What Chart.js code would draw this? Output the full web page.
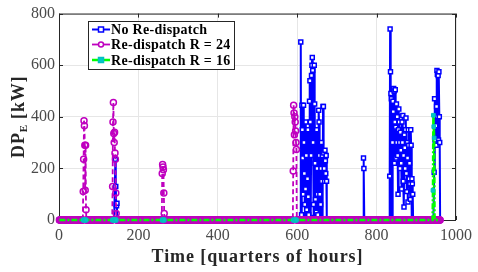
<!DOCTYPE html>
<html>
<head>
<meta charset="utf-8">
<script src="https://cdn.jsdelivr.net/npm/chart.js@4/dist/chart.umd.min.js"></script>
<style>
body { margin: 0; background: #fff; }
</style>
</head>
<body>
<canvas id="dp_chart" width="478" height="272"></canvas>
<script>
// Данные (квартал часа -> кВт), всё остальное = 0
var nQuarters = 960;

var noRedispatchQ = [141, 142, 143, 144, 145, 146, 147,
    608, 609, 610, 611, 612, 613, 614, 615, 616, 617, 618, 619, 620, 621, 622, 623, 624, 625, 626, 627, 628, 629, 630,
    631, 632, 633, 634, 635, 636, 637, 638, 639, 640, 641, 642, 643, 644, 645, 646, 647, 648, 649, 650, 651, 652, 653,
    654, 655, 656, 657, 658, 659, 660, 661, 662, 663, 664, 665, 666, 667, 668, 669, 670, 671, 672, 673, 674, 675,
    766, 767, 768, 769,
    832, 833, 834, 835, 836, 837, 838, 839, 840, 841, 842, 843, 844, 845, 846, 847, 848, 849, 850, 851, 852, 853, 854,
    855, 856, 857, 858, 859, 860, 861, 862, 863, 864, 865, 866, 867, 868, 869, 870, 871, 872, 873, 874, 875, 876, 877,
    878, 879, 880, 881, 882, 883, 884, 885, 886, 887, 888, 889, 890, 891, 892,
    944, 945, 946, 947, 948, 949, 950, 951, 952, 953, 954, 955, 956, 957, 958, 959, 960];
var noRedispatchKW = [0, 235, 130, 60, 55, 65, 0,
    0, 690, 0, 20, 445, 350, 240, 100, 445, 300, 180, 60, 0, 120, 380, 250, 40, 0, 160, 350, 90, 20, 0,
    460, 540, 380, 0, 250, 560, 600, 630, 580, 300, 60, 10, 600, 450, 220, 80, 0, 30, 350, 200, 100, 20, 0,
    425, 380, 250, 100, 0, 60, 200, 300, 150, 250, 0, 440, 440, 260, 200, 150, 270, 230, 180, 250, 150, 0,
    0, 240, 200, 0,
    0, 170, 740, 575, 490, 470, 0, 0, 300, 460, 420, 510, 500, 220, 380, 505, 360, 240, 450, 300, 400, 250, 100,
    350, 430, 380, 300, 200, 340, 270, 220, 120, 380, 300, 405, 150, 250, 50, 330, 280, 200, 350, 395, 180, 110, 300,
    240, 70, 350, 290, 160, 220, 140, 80, 350, 290, 0, 160, 140, 100, 0,
    0, 185, 470, 310, 400, 365, 290, 440, 580, 565, 400, 560, 310, 575, 400, 300, 0];

var r24Q = [60, 61, 62, 63, 64, 65, 66, 67, 68, 69,
    134, 135, 136, 137, 138, 139, 140, 141, 142, 143, 144, 145,
    259, 260, 261, 262, 263, 264, 265, 266,
    589, 590, 591, 592, 593, 594, 595, 596, 597, 598, 599];
var r24KW = [0, 110, 235, 385, 365, 290, 115, 290, 40, 0,
    0, 130, 380, 455, 335, 300, 340, 260, 235, 105, 25, 0,
    0, 180, 215, 205, 195, 105, 25, 0,
    0, 190, 445, 415, 330, 400, 380, 345, 300, 273, 0];

var r16Q = [941, 942, 943, 944, 945, 946];
var r16KW = [0, 115, 406, 362, 318, 0];

var xTicks = [0, 200, 400, 600, 800, 1000];
var yTicks = [0, 200, 400, 600, 800];

var seriesNames = ['No Re-dispatch', 'Re-dispatch R = 24', 'Re-dispatch R = 16'];

function build_series(qs, vals) {
    var m = {};
    for (var i = 0; i < qs.length; i++) m[qs[i]] = vals[i];
    var out = [];
    for (var q = 1; q <= nQuarters; q++) {
        out.push({x: q, y: m[q] !== undefined ? m[q] : 0});
    }
    return out;
}

var blueData = build_series(noRedispatchQ, noRedispatchKW);
var magentaData = build_series(r24Q, r24KW);
var greenData = build_series(r16Q, r16KW);

var serif = '"Liberation Serif", "DejaVu Serif", serif';
var axisColor = '#262626';

/* --------------------- рамка, тики внутрь, подписи осей, легенда --------------------- */

var boxPlugin = {
    id: 'box',
    beforeDatasetsDraw: function (chart) {
        var c = chart.ctx, a = chart.chartArea;
        var xs = chart.scales.x, ys = chart.scales.y;
        c.save();
        c.strokeStyle = axisColor;
        c.lineWidth = 1;
        c.strokeRect(a.left + 0.5, a.top + 0.5, a.right - a.left - 1, a.bottom - a.top);
        c.beginPath();
        xTicks.forEach(function (t) {
            var px = Math.round(xs.getPixelForValue(t)) + 0.5;
            c.moveTo(px, a.bottom); c.lineTo(px, a.bottom - 4);
            c.moveTo(px, a.top); c.lineTo(px, a.top + 4);
        });
        yTicks.forEach(function (t) {
            var py = Math.round(ys.getPixelForValue(t)) + 0.5;
            c.moveTo(a.left, py); c.lineTo(a.left + 4, py);
            c.moveTo(a.right, py); c.lineTo(a.right - 4, py);
        });
        c.stroke();
        c.restore();
    },
    afterDraw: function (chart) {
        var c = chart.ctx, a = chart.chartArea;
        c.save();
        c.fillStyle = axisColor;

        // подпись оси X
        c.font = 'bold 18px ' + serif;
        c.letterSpacing = '0.9px';
        c.textAlign = 'center';
        c.textBaseline = 'middle';
        c.fillText('Time [quarters of hours]', (a.left + a.right) / 2, 257);

        // подпись оси Y с индексом
        c.translate(18, (a.top + a.bottom) / 2);
        c.rotate(-Math.PI / 2);
        var big = 'bold 18px ' + serif, small = 'bold 11px ' + serif;
        c.letterSpacing = '0.8px';
        c.font = big;
        var w1 = c.measureText('DP').width;
        var w3 = c.measureText(' [kW]').width;
        c.font = small;
        var w2 = c.measureText('E').width;
        var x0 = -(w1 + w2 + w3) / 2;
        c.textAlign = 'left';
        c.textBaseline = 'alphabetic';
        c.font = big;
        c.fillText('DP', x0, 6);
        c.font = small;
        c.fillText('E', x0 + w1, 9);
        c.font = big;
        c.fillText(' [kW]', x0 + w1 + w2, 6);
        c.restore();

        // легенда
        c.save();
        var lx = 88, ly = 21, lw = 146, lh = 48;
        c.fillStyle = '#fff';
        c.fillRect(lx, ly, lw, lh);
        c.strokeStyle = axisColor;
        c.lineWidth = 1;
        c.strokeRect(lx + 0.5, ly + 0.5, lw, lh);
        var rows = [29.5, 44.5, 60];
        c.font = 'bold 14px ' + serif;
        c.letterSpacing = '0.3px';
        c.textBaseline = 'middle';
        chart.data.datasets.forEach(function (ds, i) {
            var y = rows[i];
            c.strokeStyle = ds.borderColor;
            c.lineWidth = ds.borderWidth;
            c.setLineDash([]);
            c.beginPath();
            c.moveTo(92, y); c.lineTo(110, y);
            c.stroke();
            c.lineWidth = 1.5;
            c.strokeStyle = ds.pointBorderColor;
            if (ds.pointStyle === 'circle') {
                c.fillStyle = '#fff';
                c.beginPath(); c.arc(101, y, 2.5, 0, Math.PI * 2); c.fill(); c.stroke();
            } else {
                c.fillStyle = ds.pointBackgroundColor;
                c.fillRect(98.5, y - 2.5, 5, 5);
                c.strokeRect(98.5, y - 2.5, 5, 5);
            }
            c.fillStyle = '#000';
            c.fillText(seriesNames[i], 111, y + 1);
        });
        c.restore();
    }
};

var ctx = document.getElementById('dp_chart').getContext('2d');
var chart = new Chart(ctx, {
    type: 'line',
    data: {
        datasets: [{
            label: seriesNames[0],
            data: blueData,
            borderColor: '#0000ff',
            borderWidth: 2,
            pointStyle: 'rect',
            pointRadius: 2.8,
            pointBorderWidth: 1.5,
            pointBorderColor: '#0000ff',
            pointBackgroundColor: '#ffffff',
            tension: 0,
            clip: false,
            order: 3
        }, {
            label: seriesNames[1],
            data: magentaData,
            borderColor: '#bf00bf',
            borderWidth: 1.8,
            borderDash: [5, 3],
            pointStyle: 'circle',
            pointRadius: 3,
            pointBorderWidth: 1.5,
            pointBorderColor: '#bf00bf',
            pointBackgroundColor: 'rgba(255,255,255,0)',
            tension: 0,
            clip: false,
            order: 2
        }, {
            label: seriesNames[2],
            data: greenData,
            borderColor: '#00ff00',
            borderWidth: 2.5,
            borderDash: [6, 2, 2, 2],
            pointStyle: 'rect',
            pointRadius: function (c) {
                var i = c.dataIndex;
                if (greenData[i] && (greenData[i].y !== 0 || magentaData[i].y !== 0)) return 2.6;
                return 0;
            },
            pointBorderWidth: 1,
            pointBorderColor: '#00c0c0',
            pointBackgroundColor: '#00c8c8',
            tension: 0,
            clip: false,
            order: 1
        }]
    },
    options: {
        responsive: false,
        animation: false,
        layout: {padding: {left: 0, top: 7, right: 16, bottom: 0}},
        plugins: {legend: {display: false}, tooltip: {enabled: false}},
        scales: {
            x: {
                type: 'linear',
                min: 0,
                max: 1000,
                afterFit: function (s) { s.height = 52; },
                afterBuildTicks: function (s) { s.ticks = xTicks.map(function (v) { return {value: v}; }); },
                grid: {color: '#e6e6e6', drawTicks: false},
                border: {display: false},
                ticks: {
                    padding: 6, color: '#4a4a4a', font: {family: serif, size: 16},
                    callback: function (v) { return String(v); }
                }
            },
            y: {
                min: 0,
                max: 800,
                afterFit: function (s) { s.width = 59; },
                afterBuildTicks: function (s) { s.ticks = yTicks.map(function (v) { return {value: v}; }); },
                grid: {color: '#e6e6e6', drawTicks: false},
                border: {display: false},
                ticks: {
                    padding: 4, color: '#4a4a4a', font: {family: serif, size: 16},
                    callback: function (v) { return String(v); }
                }
            }
        }
    },
    plugins: [boxPlugin]
});
</script>
</body>
</html>
